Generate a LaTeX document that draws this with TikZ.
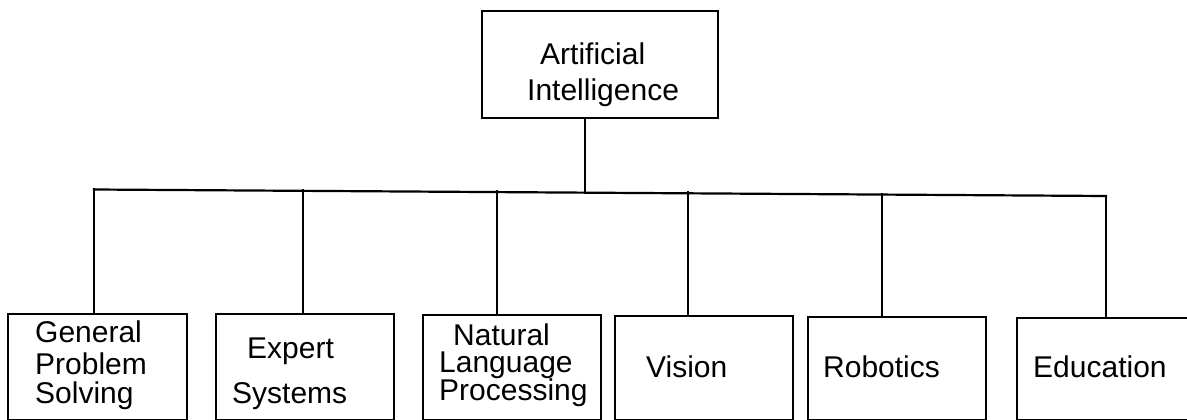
\documentclass[tikz,border=0pt]{standalone}
\usepackage{fontspec}
\setmainfont{Liberation Sans}
\begin{document}
\begin{tikzpicture}[x=1pt,y=-1pt,
  box/.style={draw, line width=2.3pt, rectangle, inner sep=0pt, anchor=north west},
  lbl/.style={anchor=base west, inner sep=0pt, font=\fontsize{30}{30}\selectfont},
  link/.style={line width=2.2pt, line cap=rect}]
\useasboundingbox (0,0) rectangle (1187,420);
\clip (0,0) rectangle (1187,420);

% boxes
\node[box, minimum width=236pt, minimum height=107pt] (ai)  at (481,10)  {};
\node[box, minimum width=179pt, minimum height=105.5pt] (gps) at (7,313)   {};
\node[box, minimum width=178pt, minimum height=105.5pt] (es)  at (215,313) {};
\node[box, minimum width=178pt, minimum height=104.5pt] (nlp) at (422,314) {};
\node[box, minimum width=178pt, minimum height=103.5pt] (vis) at (614,315) {};
\node[box, minimum width=178pt, minimum height=102.5pt] (rob) at (807,316) {};
\node[box, minimum width=190pt, minimum height=101.5pt] (edu) at (1016,317) {};

% labels
\node[lbl] (t1) at (540,65)  {Artificial};
\node[lbl] (t2) at (527,100) {Intelligence};
\node[lbl] (t3) at (35,342)  {General};
\node[lbl] (t4) at (35,374)  {Problem};
\node[lbl] (t5) at (35,403)  {Solving};
\node[lbl] (t6) at (247,358) {Expert};
\node[lbl] (t7) at (232,403) {Systems};
\node[lbl] (t8) at (453,345) {Natural};
\node[lbl] (t9) at (439,372) {Language};
\node[lbl] (t10) at (439,400) {Processing};
\node[lbl] (t11) at (646,377) {Vision};
\node[lbl] (t12) at (823,377) {Robotics};
\node[lbl] (t13) at (1033,377) {Education};

% junctions on the bus
\coordinate (j0) at (585,191.5);
\coordinate (j1) at (94,189.5);
\coordinate (j2) at (303,190.5);
\coordinate (j3) at (497,191);
\coordinate (j4) at (688,192.5);
\coordinate (j5) at (882,194);
\coordinate (j6) at (1106,196);

% connectors
\draw[link] (ai.south -| j0) -- (j0);
\draw[link] (j1) -- (j6);
\draw[link] (j1) -- (j1 |- gps.north);
\draw[link] (j2) -- (j2 |- es.north);
\draw[link] (j3) -- (j3 |- nlp.north);
\draw[link] (j4) -- (j4 |- vis.north);
\draw[link] (j5) -- (j5 |- rob.north);
\draw[link] (j6) -- (j6 |- edu.north);
\end{tikzpicture}
\end{document}
